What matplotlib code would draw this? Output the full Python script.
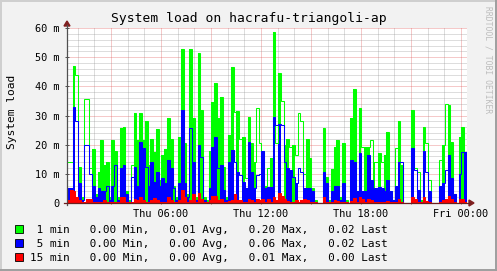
import numpy as np
import matplotlib
matplotlib.use("Agg")
import matplotlib.pyplot as plt
from matplotlib.lines import Line2D
from matplotlib.patches import Rectangle, Polygon

W, H = 497, 271
MONO = "DejaVu Sans Mono"

# 10-minute bins, hours since Thu 00:00 (graph starts Thu 00:22)
START_H = 0.36
BIN_H = 1 / 6

# load in milli-units (m)
load_1min = [
    14, 14, 47, 44, 12.5, 2, 35.7, 35.7, 12, 18.5, 3, 10.7, 21.6, 13, 14, 2, 21.6, 18,
    2, 25.6, 26, 4, 1, 13, 31, 21.6, 30.7, 21.6, 28, 13, 22, 17.6, 25.4, 8, 16.5, 18.5,
    29, 21.8, 6, 2, 22.7, 52.8, 20.5, 3, 52.8, 29, 2, 51.3, 32, 2, 1, 18, 34.7, 41,
    29, 36.5, 12.5, 2, 23.3, 46.7, 31.3, 31.5, 22, 22.7, 8.5, 29.6, 20.5, 14, 32.5, 20.5, 18, 6,
    12, 15.3, 58.7, 20.5, 44.5, 35, 20, 22, 19.3, 20, 16.5, 30.7, 28, 10, 22, 15.3, 5, 1,
    0, 0, 25.6, 9, 1, 11.7, 19.3, 21.6, 2, 20.5, 1, 0, 29, 39, 4, 32.5, 19.3, 19.3,
    19.3, 21.6, 14, 14, 17, 14, 16.5, 24.5, 4, 1, 18.7, 28, 13, 0, 0, 0, 32, 12,
    10.7, 1, 26, 20.5, 8, 0, 0, 0, 14.7, 20, 33.8, 33.6, 21, 3, 0, 22.7, 26, 17.6,
]
load_5min = [
    5, 5, 33, 28, 7, 1, 20, 20, 10, 6, 2, 5, 4, 4, 6, 1, 6, 13,
    1, 12, 13, 3, 0.5, 9, 12.5, 6, 21, 18.7, 12.5, 6, 14, 7.3, 10.7, 6, 8.5, 6.7,
    14.7, 12, 5, 1, 6.7, 31.9, 6.7, 2, 25.6, 14, 1, 19.9, 15.9, 1, 0.5, 5, 19.3, 22.7,
    12, 13, 4.5, 1, 14, 18.2, 14, 10.7, 9.6, 7.3, 5, 21, 10.7, 5, 9.6, 10, 18, 5,
    5.6, 5.6, 29.6, 26.7, 27, 26.7, 14, 12, 11.3, 9, 6.7, 12, 10.7, 5, 5, 5, 4, 0.5,
    0, 0, 10.7, 6.7, 0.5, 4, 6, 6, 1, 6.7, 0.5, 0, 14.7, 14, 4, 17, 4, 4,
    16.5, 8, 5, 5, 5.6, 5, 4, 8, 4, 1, 6, 14, 14, 0, 0, 0, 18.7, 11.3,
    4.5, 0.5, 17.8, 10.7, 4, 0, 0, 0, 6, 6.7, 11.3, 16.5, 8.5, 3, 0, 10, 17.6, 17.6,
]
load_15min = [
    1, 4.5, 4, 2, 1, 0.5, 0.5, 1.5, 1.5, 0.5, 0.5, 0.5, 0.5, 1, 0.5, 0.3, 0.5, 0.5,
    0.3, 2.2, 2.2, 0.5, 0.3, 0.5, 1.5, 1, 2, 1, 0.5, 0.5, 1, 1.6, 1, 0.5, 0.5, 0.5,
    2.2, 1, 0.5, 0.3, 1, 4.5, 2, 0.5, 1, 3, 0.3, 3.5, 1.5, 0.3, 0.3, 1, 2.4, 2.4,
    1, 1.5, 0.5, 0.3, 0.8, 1, 3, 1, 1, 0.5, 0.5, 1.5, 1, 0.5, 1.5, 1, 1.5, 0.5,
    1.5, 0.5, 2, 1, 3.3, 2.5, 1.5, 0.8, 0.5, 0.5, 1, 0.5, 1, 1.4, 1, 0.5, 0.3, 0.2,
    0, 0, 2, 0.5, 0.2, 0.3, 1, 0.8, 0.2, 0.5, 0.2, 0, 0.8, 1.8, 0.3, 2, 1.5, 0.5,
    1.5, 1, 0.5, 0.5, 0.5, 0.5, 0.3, 0.8, 0.3, 0.2, 0.5, 1.5, 0.5, 0, 0, 0, 2.2, 1.5,
    0.5, 0.2, 2, 0.8, 0.3, 0, 0, 0, 0.5, 1, 1.5, 2.5, 1.5, 0.3, 0, 1.5, 1.5, 0.5,
]
# bins drawn only as an outline (no fill)
hollow_1min = [0, 1, 3, 6, 7, 8, 23, 60, 62, 64, 68, 69, 72, 75, 77, 80, 82, 83, 84, 85,
               106, 109, 111, 113, 118, 125, 126, 129, 130, 134, 136, 143]
hollow_5min = [3, 6, 7, 8, 14, 17, 23, 28, 38, 44, 48, 54, 60, 62, 68, 69, 75, 77, 78, 81,
               83, 84, 120, 125, 129, 136, 142]

x_ticks = [6, 12, 18, 24]
x_labels = ["Thu 06:00", "Thu 12:00", "Thu 18:00", "Fri 00:00"]
y_ticks = [0, 10, 20, 30, 40, 50, 60]
y_labels = ["0", "10 m", "20 m", "30 m", "40 m", "50 m", "60 m"]

legend_names = ["1 min", "5 min", "15 min"]
legend_colors = ["#00ff00", "#0000ff", "#ff0000"]
legend_stats = [
    ("0.00", "0.01", "0.20", "0.02"),
    ("0.00", "0.00", "0.06", "0.02"),
    ("0.00", "0.00", "0.01", "0.00"),
]

GRID = (0.56, 0.56, 0.56, 0.6)
MGRID = (0.87, 0.31, 0.31, 0.6)


def fx(px):
    return px / W


def fy(py):
    return 1 - py / H


fig = plt.figure(figsize=(W / 100, H / 100), dpi=100, facecolor="#f2f2f2")
ax = fig.add_axes([fx(67), fy(203), 400 / W, 175 / H])
ax.set_facecolor("white")
for s in ax.spines.values():
    s.set_visible(False)

t0 = START_H
t1 = START_H + len(load_1min) * BIN_H
ax.set_xlim(t0, t1)
ax.set_ylim(0, 60)

# grid: minor every hour / 2 m, major every 3 h / 10 m
for h in range(1, 25):
    major = h % 3 == 0
    ax.axvline(h, color=MGRID if major else GRID, lw=0.72, ls=(0, (1, 1)), zorder=1)
for v in range(2, 61, 2):
    major = v % 10 == 0
    ax.axhline(v, color=MGRID if major else GRID, lw=0.72, ls=(0, (1, 1)), zorder=1)

edges = START_H + np.arange(len(load_1min) + 1) * BIN_H
g = np.array(load_1min, dtype=float)
b = np.array(load_5min, dtype=float)
r = np.array(load_15min, dtype=float)
g_fill = g.copy()
g_fill[hollow_1min] = 0
b_fill = b.copy()
b_fill[hollow_5min] = 0

ax.stairs(g_fill, edges, fill=True, color="#00ff00", lw=0, zorder=2)
ax.stairs(b_fill, edges, fill=True, color="#0000ff", lw=0, zorder=3)
ax.stairs(r, edges, fill=True, color="#ff0000", lw=0, zorder=4)
ax.stairs(g, edges, baseline=None, color="#00ff00", lw=0.75, zorder=5)
ax.stairs(b, edges, baseline=None, color="#0000ff", lw=0.75, zorder=6)
ax.stairs(r, edges, baseline=None, color="#ff0000", lw=0.75, zorder=7)

ax.set_xticks(x_ticks)
ax.set_xticklabels(x_labels, family=MONO, fontsize=7.4)
ax.set_xticks([3, 9, 15, 21], minor=True)
ax.set_yticks(y_ticks)
ax.set_yticklabels(y_labels, family=MONO, fontsize=7.4)
ax.tick_params(axis="x", which="both", length=2, width=0.7, color="#c05050",
               direction="inout", pad=3)
ax.tick_params(axis="y", length=3, width=0.7, color="#505050", direction="inout", pad=4)

# axes with arrows
fig.add_artist(Line2D([fx(67), fx(67)], [fy(205), fy(25)], color="#505050", lw=0.9))
fig.add_artist(Line2D([fx(64), fx(470)], [fy(203), fy(203)], color="#6b1f1f", lw=0.9))
fig.add_artist(Polygon([[fx(64), fy(26)], [fx(70), fy(26)], [fx(67), fy(21)]],
                       closed=True, color="#801f1f", transform=fig.transFigure))
fig.add_artist(Polygon([[fx(469), fy(200)], [fx(469), fy(206)], [fx(474), fy(203)]],
                       closed=True, color="#801f1f", transform=fig.transFigure))

# texts
fig.text(fx(248.5), fy(22), "System load on hacrafu-triangoli-ap", ha="center",
         va="baseline", family=MONO, fontsize=9.4)
fig.text(fx(12), fy(112), "System load", rotation=90, ha="center", va="center",
         family=MONO, fontsize=8.1)
fig.text(fx(488), fy(60), "RRDTOOL / TOBI OETIKER", rotation=270, ha="center",
         va="center", family=MONO, fontsize=5.8, color="#bdbdbd")

for k, (name, col, st) in enumerate(zip(legend_names, legend_colors, legend_stats)):
    yc = 229.3 + 14 * k
    fig.add_artist(Rectangle((fx(15), fy(yc + 4)), 8 / W, 8 / H, facecolor=col,
                             edgecolor="black", lw=0.6, transform=fig.transFigure))
    line = f"{name:>6}   {st[0]} Min,   {st[1]} Avg,   {st[2]} Max,   {st[3]} Last"
    fig.text(fx(30), fy(yc + 4), line, ha="left", va="baseline", family=MONO, fontsize=7.9)

# 3d frame
fig.add_artist(Line2D([fx(0.5), fx(0.5)], [fy(0), fy(H)], color="#cfcfcf", lw=1.4))
fig.add_artist(Line2D([fx(0), fx(W)], [fy(0.5), fy(0.5)], color="#cfcfcf", lw=1.4))
fig.add_artist(Line2D([fx(W - 1), fx(W - 1)], [fy(0), fy(H)], color="#9e9e9e", lw=1.4))
fig.add_artist(Line2D([fx(0), fx(W)], [fy(H - 1), fy(H - 1)], color="#9e9e9e", lw=1.4))

fig.savefig("out.png", dpi=100, facecolor=fig.get_facecolor())
